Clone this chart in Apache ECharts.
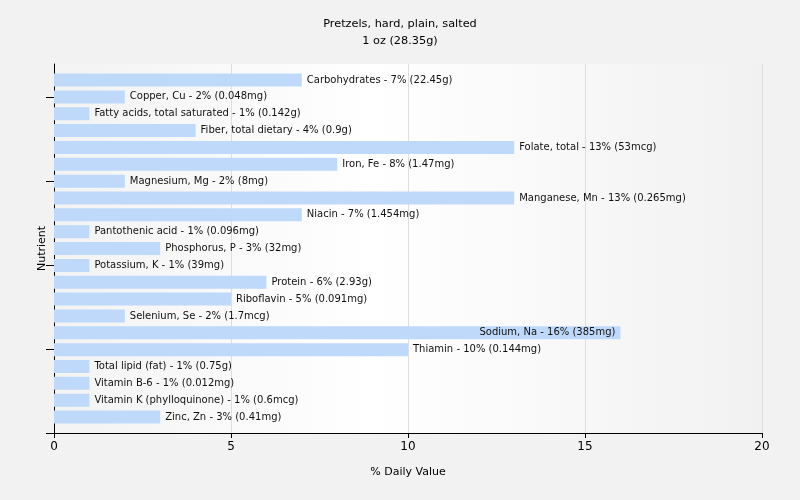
<!DOCTYPE html>
<html>
<head>
<meta charset="utf-8">
<script src="https://cdn.jsdelivr.net/npm/echarts@6/dist/echarts.min.js"></script>
<style>
html,body{margin:0;padding:0;background:#f2f2f2;}
#c{width:800px;height:500px;}
</style>
</head>
<body>
<div id="c"></div>
<script>
const titleText = "Pretzels, hard, plain, salted";
const subtitleText = "1 oz (28.35g)";
const nutrients = ["Carbohydrates","Copper, Cu","Fatty acids, total saturated","Fiber, total dietary","Folate, total","Iron, Fe","Magnesium, Mg","Manganese, Mn","Niacin","Pantothenic acid","Phosphorus, P","Potassium, K","Protein","Riboflavin","Selenium, Se","Sodium, Na","Thiamin","Total lipid (fat)","Vitamin B-6","Vitamin K (phylloquinone)","Zinc, Zn"];
const dailyValues = [7,2,1,4,13,8,2,13,7,1,3,1,6,5,2,16,10,1,1,1,3];
const amounts = ["22.45g","0.048mg","0.142g","0.9g","53mcg","1.47mg","8mg","0.265mg","1.454mg","0.096mg","32mg","39mg","2.93g","0.091mg","1.7mcg","385mg","0.144mg","0.75g","0.012mg","0.6mcg","0.41mg"];
const xTicks = [0,5,10,15,20];

const FONT = "DejaVu Sans";
const chart = echarts.init(document.getElementById('c'));
const data = dailyValues.map((v,i)=>({
  value: v,
  label: v >= 15 ? {position:'insideRight', distance:5} : {position:'right', distance:5}
}));
chart.setOption({
  backgroundColor:'#f2f2f2',
  animation:false,
  title:{
    text: titleText + "\n" + subtitleText,
    left:'center', top:11,
    textStyle:{fontFamily:FONT, fontSize:11.3, fontWeight:'normal', color:'#000', lineHeight:17}
  },
  grid:[
    {left:54, right:38, top:71.6, bottom:74.5, show:false},
    {left:54, right:38, top:64, bottom:67, show:true, borderWidth:0,
     backgroundColor:{type:'linear',x:0,y:0,x2:1,y2:0,colorStops:[
       {offset:0,color:'#f3f3f3'},{offset:0.45,color:'#ffffff'},{offset:1,color:'#f1f1f1'}]}}
  ],
  xAxis:[
    {gridIndex:0, type:'value', min:xTicks[0], max:xTicks[xTicks.length-1], interval:5, show:false},
    {gridIndex:1, type:'value', min:xTicks[0], max:xTicks[xTicks.length-1], interval:5,
     name:'% Daily Value', nameLocation:'middle', nameGap:34,
     nameTextStyle:{fontFamily:FONT, fontSize:11, color:'#000'},
     axisLine:{show:true, lineStyle:{color:'#000', width:1}},
     axisTick:{show:true, length:5, lineStyle:{color:'#000'}},
     axisLabel:{fontFamily:FONT, fontSize:12, color:'#000', margin:8},
     splitLine:{show:true, lineStyle:{color:'#dedede', width:1}}}
  ],
  yAxis:[
    {gridIndex:0, type:'category', data:nutrients, inverse:true,
     axisLine:{show:false}, axisLabel:{show:false},
     axisTick:{show:true, alignWithLabel:true, length:8, lineStyle:{color:'#000'},
       interval:function(idx){return idx % 5 === 1;}},
     splitLine:{show:false}},
    {gridIndex:1, type:'value', min:0, max:1,
     name:'Nutrient', nameLocation:'middle', nameGap:6,
     nameTextStyle:{fontFamily:FONT, fontSize:11, color:'#000'},
     axisLine:{show:true, lineStyle:{color:'#000', width:1}},
     axisTick:{show:true, length:8, customValues:[0], lineStyle:{color:'#000'}},
     axisLabel:{show:false}, splitLine:{show:false}}
  ],
  series:[{
    type:'bar', xAxisIndex:0, yAxisIndex:0,
    data:data, barWidth:13,
    itemStyle:{color:'#bfd9fa'},
    label:{show:true, fontFamily:FONT, fontSize:10, color:'#111',
      formatter:function(p){return nutrients[p.dataIndex]+' - '+dailyValues[p.dataIndex]+'% ('+amounts[p.dataIndex]+')';}}
  }]
});
</script>
</body>
</html>
